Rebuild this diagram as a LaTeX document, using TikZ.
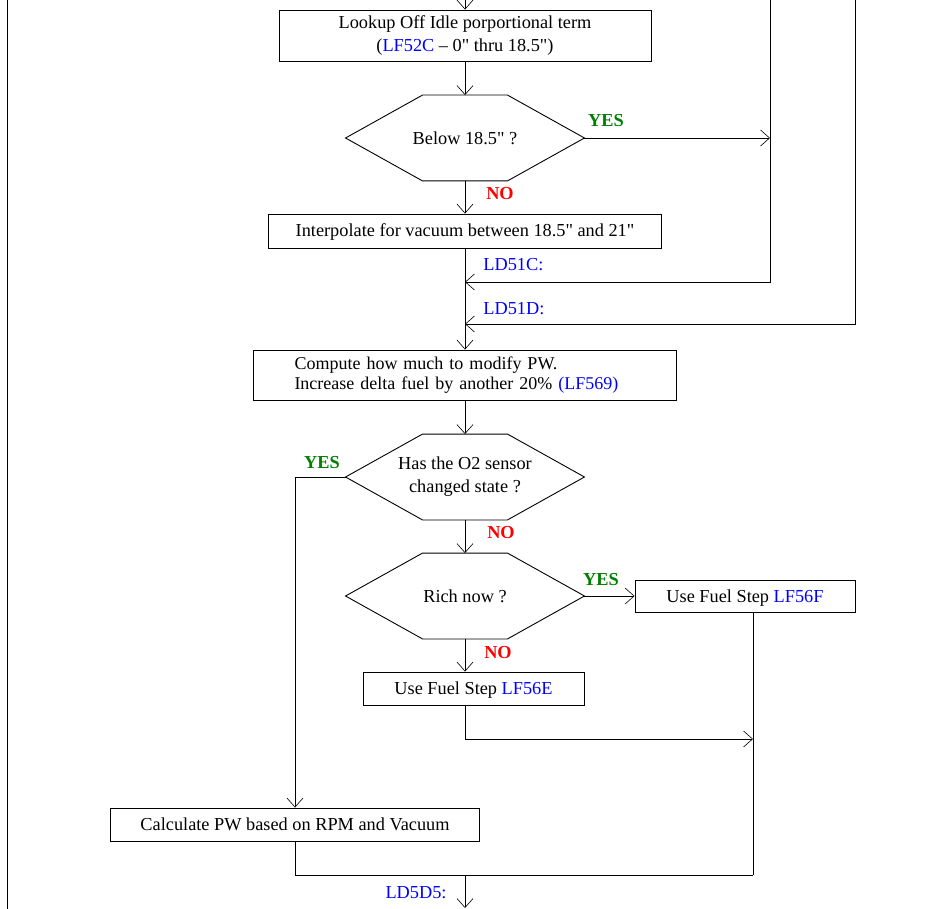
\documentclass[tikz,border=0pt]{standalone}
\usepackage{fontspec}
\setmainfont{Liberation Serif}[Ligatures=TeXOff]
\usetikzlibrary{arrows.meta}
\begin{document}
\begin{tikzpicture}[x=1pt,y=-1pt,line width=0.9pt,>={Straight Barb[length=9pt,width=16pt,line width=0.6pt]},
  every node/.style={font=\fontsize{18.3}{23}\selectfont},
  box/.style={draw,inner sep=2pt,align=center},
  onebox/.style={box,text height=16pt,text depth=4pt},
  decision/.style={minimum width=238pt,minimum height=85pt,inner sep=0pt,align=center,
    append after command={\pgfextra{\draw (\tikzlastnode.west)--([xshift=77pt]\tikzlastnode.north west)--([xshift=-77pt]\tikzlastnode.north east)--(\tikzlastnode.east)--([xshift=-77pt]\tikzlastnode.south east)--([xshift=77pt]\tikzlastnode.south west)--cycle;}}},
  yes/.style={text=green!50!black,font=\fontsize{18.3}{23}\selectfont\bfseries,inner sep=0pt},
  no/.style={text=red,font=\fontsize{18.3}{23}\selectfont\bfseries,inner sep=0pt},
  lbl/.style={text=blue,inner sep=0pt}]
\path[use as bounding box] (0,0) rectangle (940,909);
\node[box,minimum width=372pt,minimum height=51pt] (lookup) at (465,35.5) {Lookup Off Idle porportional term\\(\textcolor{blue}{LF52C} – 0" thru 18.5")};
\node[decision] (below) at (465,138) {Below 18.5" ?};
\node[onebox,minimum width=393pt,minimum height=34pt] (interp) at (465,231) {Interpolate for vacuum between 18.5" and 21"};
\node[box,minimum width=423pt,minimum height=50pt,inner xsep=41pt,text width=341pt,align=left,font=\fontsize{18}{20.5}\selectfont] (compute) at (465,375) {Compute how much to modify PW.\\ Increase delta fuel by another 20\% \textcolor{blue}{(LF569)}};
\node[decision] (sensor) at (465,477) {Has the O2 sensor\\changed state ?};
\node[decision] (rich) at (465,596) {Rich now ?};
\node[onebox,minimum width=220pt,minimum height=32pt] (stepF) at (745,596) {Use Fuel Step \textcolor{blue}{LF56F}};
\node[onebox,minimum width=221pt,minimum height=33pt] (stepE) at (473.5,688.5) {Use Fuel Step \textcolor{blue}{LF56E}};
\node[box,minimum width=369pt,minimum height=33pt] (calc) at (295,824.5) {Calculate PW based on RPM and Vacuum};
\coordinate (in) at (465,0);
\coordinate (r1top) at (770,0);
\coordinate (r1) at (770,138);
\coordinate (r1bot) at (770,282);
\coordinate (r2top) at (855,0);
\coordinate (r2bot) at (855,324);
\coordinate (j51c) at (465,282);
\coordinate (j51d) at (465,324);
\coordinate (jE) at (753,739);
\coordinate (jcalc) at (753,875);
\coordinate (d5) at (465,875);
\coordinate (out) at (465,908);
\draw (7,0) -- (7,909);
\draw[->] (in) -- (lookup.north);
\draw[->] (lookup.south) -- (below.north);
\draw[->] (below.east) -- (r1);
\draw[->] (r1top) -- (r1bot) -- (j51c);
\draw[->] (r2top) -- (r2bot) -- (j51d);
\draw[->] (below.south) -- (interp.north);
\draw[->] (interp.south) -- (compute.north);
\draw[->] (compute.south) -- (sensor.north);
\draw[->] (sensor.west) -| (calc.north);
\draw[->] (sensor.south) -- (rich.north);
\draw[->] (rich.east) -- (stepF.west);
\draw[->] (rich.south) -- (rich.south |- stepE.north);
\draw[->] (stepE.south -| rich.south) |- (jE);
\draw ([xshift=8pt]stepF.south) -- (jcalc);
\draw (calc.south) |- (jcalc);
\draw[->] (d5) -- (out);
\node[yes] (yes1) at (606,121) {YES};
\node[no] (no1) at (500,194) {NO};
\node[lbl,anchor=west] (l51c) at (483,265) {LD51C:};
\node[lbl,anchor=west] (l51d) at (483,309) {LD51D:};
\node[yes] (yes2) at (322,463) {YES};
\node[no] (no2) at (501,533) {NO};
\node[yes] (yes3) at (601,580) {YES};
\node[no] (no3) at (498,653) {NO};
\node[lbl,anchor=east] (l5d5) at (447,893) {LD5D5:};
\end{tikzpicture}
\end{document}
